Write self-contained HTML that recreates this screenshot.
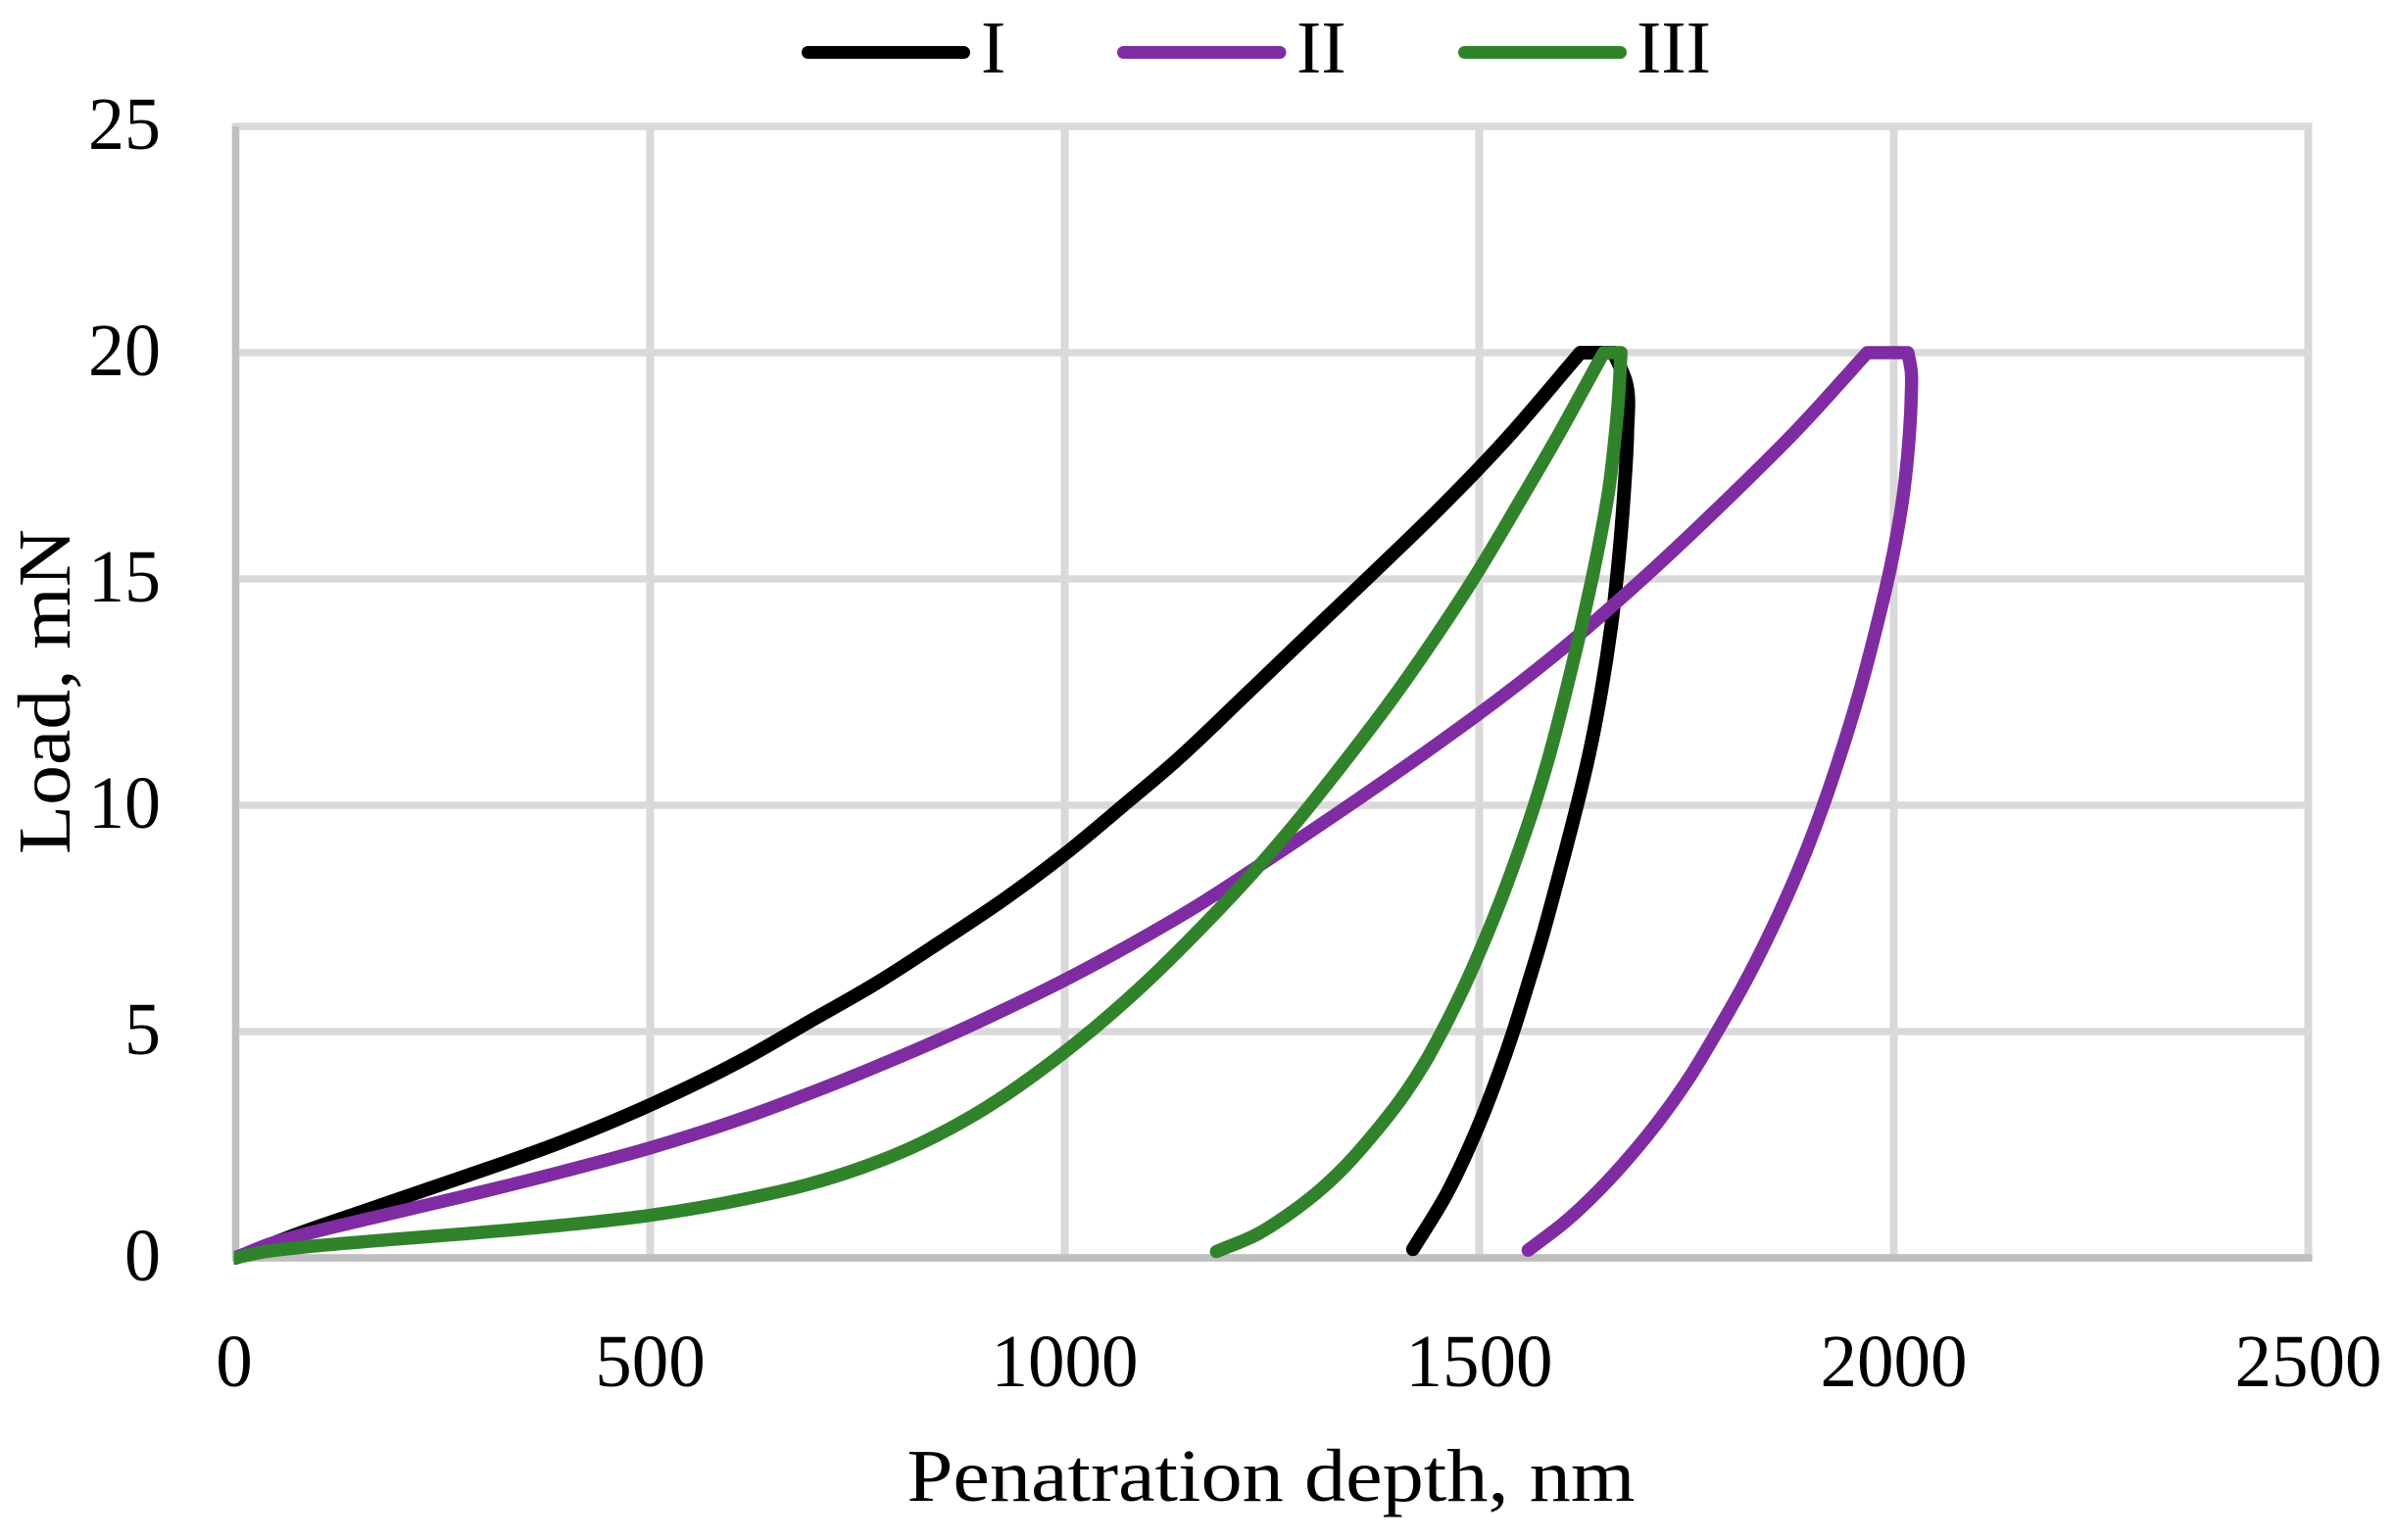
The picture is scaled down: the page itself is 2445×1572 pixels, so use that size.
<!DOCTYPE html>
<html lang="en">
<head>
<meta charset="utf-8">
<title>Load versus penetration depth</title>
<style>
html,body{margin:0;padding:0;background:#fff;}
svg{display:block;}
text{font-family:"Liberation Serif",serif;font-size:76px;fill:#000;}
</style>
</head>
<body>
<svg id="chart" xmlns="http://www.w3.org/2000/svg" width="2445" height="1572" viewBox="0 0 2445 1572">
  <rect x="0" y="0" width="2445" height="1572" fill="#ffffff"/>
  <defs><clipPath id="plot-clip"><rect id="plot-clip-rect" x="0" y="0" width="2445" height="1572"/></clipPath></defs>
  <g id="grid"></g>
  <g id="axes"></g>
  <g id="series" clip-path="url(#plot-clip)"></g>
  <g id="labels"></g>
  <g>
    <line x1="824.5" y1="53.5" x2="983.5" y2="53.5" stroke="#000000" stroke-width="13" stroke-linecap="round"/>
    <text x="1001" y="74">I</text>
    <line x1="1146.5" y1="53.5" x2="1306" y2="53.5" stroke="#7f2ca3" stroke-width="13" stroke-linecap="round"/>
    <text x="1323" y="74">II</text>
    <line x1="1494.5" y1="53.5" x2="1653.5" y2="53.5" stroke="#30832a" stroke-width="13" stroke-linecap="round"/>
    <text x="1670" y="74">III</text>
  </g>
  <text x="1297" y="1532" text-anchor="middle" textLength="743" lengthAdjust="spacingAndGlyphs">Penatration depth, nm</text>
  <text transform="translate(71 706) rotate(-90)" text-anchor="middle" textLength="332" lengthAdjust="spacingAndGlyphs">Load, mN</text>
</svg>
<script>
const xTicks = [0, 500, 1000, 1500, 2000, 2500];
const yTicks = [0, 5, 10, 15, 20, 25];

const depthI = [0, 78, 157, 275, 393, 500, 614, 693, 772, 850, 929, 1000, 1071, 1134, 1213, 1291, 1370, 1449, 1528, 1622, 1662, 1677, 1678.5, 1675, 1668, 1659.5, 1647, 1631, 1618, 1604, 1589.5, 1574.5, 1558, 1541, 1522, 1497, 1460, 1420];
const loadI = [0, 0.55, 1.05, 1.79, 2.56, 3.38, 4.4, 5.23, 6.06, 6.98, 7.95, 8.92, 10, 10.98, 12.35, 13.72, 15.1, 16.5, 18, 20, 20, 19.35, 18.2, 17, 15.4, 14, 12.5, 11, 10, 9, 8, 7, 6, 5, 4, 2.83, 1.39, 0.19];

const depthII = [0, 40, 100, 157, 275, 393, 500, 614, 693, 772, 850, 929, 1000, 1087, 1166, 1229, 1331, 1449, 1528, 1607, 1686, 1804, 1883, 1968, 2017, 2021, 2021, 2018, 2012.5, 2004, 1993, 1980, 1957, 1933.5, 1915, 1894.5, 1871.5, 1846, 1818, 1787, 1754, 1721.6, 1682, 1644.6, 1604, 1559];
const loadII = [0, 0.3, 0.6, 0.85, 1.36, 1.9, 2.43, 3.1, 3.64, 4.22, 4.83, 5.5, 6.14, 7, 7.85, 8.6, 9.85, 11.35, 12.41, 13.56, 14.82, 16.85, 18.29, 20, 20, 19.6, 19, 18, 17, 16, 15, 14, 12.4, 11, 10, 9, 8, 7, 6, 5, 4, 3.15, 2.25, 1.5, 0.8, 0.17];

const depthIII = [0, 30, 78, 157, 275, 393, 500, 614, 690, 756, 811, 890, 1000, 1087, 1166, 1229, 1276, 1337, 1397, 1452, 1493, 1550, 1596, 1638, 1650, 1671, 1668, 1663, 1656.5, 1647, 1636, 1624, 1611, 1597.5, 1583, 1566.5, 1548, 1528, 1506, 1482, 1455, 1434, 1410, 1370, 1337, 1308, 1273, 1232, 1183];
const loadIII = [0, 0.12, 0.23, 0.36, 0.53, 0.72, 0.94, 1.3, 1.62, 2, 2.4, 3.15, 4.55, 5.9, 7.32, 8.55, 9.55, 10.95, 12.4, 13.85, 15, 16.75, 18.2, 19.6, 20, 20, 19, 18, 17, 16, 15, 14, 13, 12, 11, 10, 9, 8, 7, 6, 5, 4.3, 3.62, 2.68, 2, 1.5, 1, 0.52, 0.14];

const SVG_NS = 'http://www.w3.org/2000/svg';
const plotLeft = 240.5, plotRight = 2355.5, plotTop = 129, plotBottom = 1284;
const xMax = xTicks[xTicks.length - 1];
const yMax = yTicks[yTicks.length - 1];
function xScale(v) { return plotLeft + (v / xMax) * (plotRight - plotLeft); }
function yScale(v) { return plotBottom - (v / yMax) * (plotBottom - plotTop); }

function make(tag, parentId, attrs, text) {
  const el = document.createElementNS(SVG_NS, tag);
  for (const k in attrs) el.setAttribute(k, attrs[k]);
  if (text !== undefined) el.textContent = text;
  document.getElementById(parentId).appendChild(el);
  return el;
}

xTicks.forEach(function (t) {
  const line = make('line', 'grid', { x1: xScale(t), x2: xScale(t), y1: plotTop - 3, y2: plotBottom, stroke: '#d9d9d9', 'stroke-width': 8 });
  
  
  const label = make('text', 'labels', { x: xScale(t) - (t === 0 ? 1.5 : 0), y: 1415, 'text-anchor': 'middle', textLength: String(t).length * 37.5, lengthAdjust: 'spacingAndGlyphs' }, String(t));
  
  
});

yTicks.forEach(function (t) {
  const line = make('line', 'grid', { x1: plotLeft - 2, x2: plotRight + 4, y1: yScale(t), y2: yScale(t), stroke: '#d9d9d9', 'stroke-width': 7.5 });
  
  
  const label = make('text', 'labels', { x: 164, y: yScale(t) + 23, 'text-anchor': 'end', textLength: String(t).length * 37, lengthAdjust: 'spacingAndGlyphs' }, String(t));
  
  
});

const xAxisLine = make('line', 'axes', { x1: plotLeft - 3.5, x2: plotRight + 4, y1: plotBottom, y2: plotBottom, stroke: '#bfbfbf', 'stroke-width': 7.5 });


const yAxisLine = make('line', 'axes', { x1: plotLeft, x2: plotLeft, y1: plotTop, y2: plotBottom, stroke: '#bfbfbf', 'stroke-width': 7 });



const clipRect = document.getElementById('plot-clip-rect');
clipRect.setAttribute('x', plotLeft - 2);
clipRect.setAttribute('width', 2445 - plotLeft);

function chord(a, b) { return Math.max(Math.hypot(b.x - a.x, b.y - a.y), 0.001); }

function curvePath(depths, loads) {
  const peak = Math.max.apply(null, loads);
  const pts = depths.map(function (d, i) { return { x: xScale(d), y: yScale(loads[i]), corner: loads[i] === peak }; });
  function tangent(i) {
    const p = pts[i];
    if (p.corner || i === 0 || i === pts.length - 1) return null;
    const a = pts[i - 1], b = pts[i + 1];
    const d1 = chord(a, p), d2 = chord(p, b);
    return {
      x: ((p.x - a.x) / d1 * d2 + (b.x - p.x) / d2 * d1) / (d1 + d2),
      y: ((p.y - a.y) / d1 * d2 + (b.y - p.y) / d2 * d1) / (d1 + d2)
    };
  }
  let path = 'M' + pts[0].x.toFixed(2) + ' ' + pts[0].y.toFixed(2);
  for (let i = 0; i < pts.length - 1; i++) {
    const p1 = pts[i], p2 = pts[i + 1];
    const d = chord(p1, p2);
    const t1 = tangent(i), t2 = tangent(i + 1);
    const c1x = t1 ? p1.x + t1.x * d / 3 : p1.x + (p2.x - p1.x) / 3;
    const c1y = t1 ? p1.y + t1.y * d / 3 : p1.y + (p2.y - p1.y) / 3;
    const c2x = t2 ? p2.x - t2.x * d / 3 : p2.x - (p2.x - p1.x) / 3;
    const c2y = t2 ? p2.y - t2.y * d / 3 : p2.y - (p2.y - p1.y) / 3;
    path += 'C' + c1x.toFixed(2) + ' ' + c1y.toFixed(2) + ' ' + c2x.toFixed(2) + ' ' + c2y.toFixed(2) + ' ' + p2.x.toFixed(2) + ' ' + p2.y.toFixed(2);
  }
  return path;
}

const commonStroke = { fill: 'none', 'stroke-linecap': 'round', 'stroke-linejoin': 'round' };

const curveI = make('path', 'series', Object.assign({ d: curvePath(depthI, loadI), stroke: '#000000', 'stroke-width': 14 }, commonStroke));



const curveII = make('path', 'series', Object.assign({ d: curvePath(depthII, loadII), stroke: '#7f2ca3', 'stroke-width': 13.5 }, commonStroke));



const curveIII = make('path', 'series', Object.assign({ d: curvePath(depthIII, loadIII), stroke: '#30832a', 'stroke-width': 13.5 }, commonStroke));


</script>
</body>
</html>
